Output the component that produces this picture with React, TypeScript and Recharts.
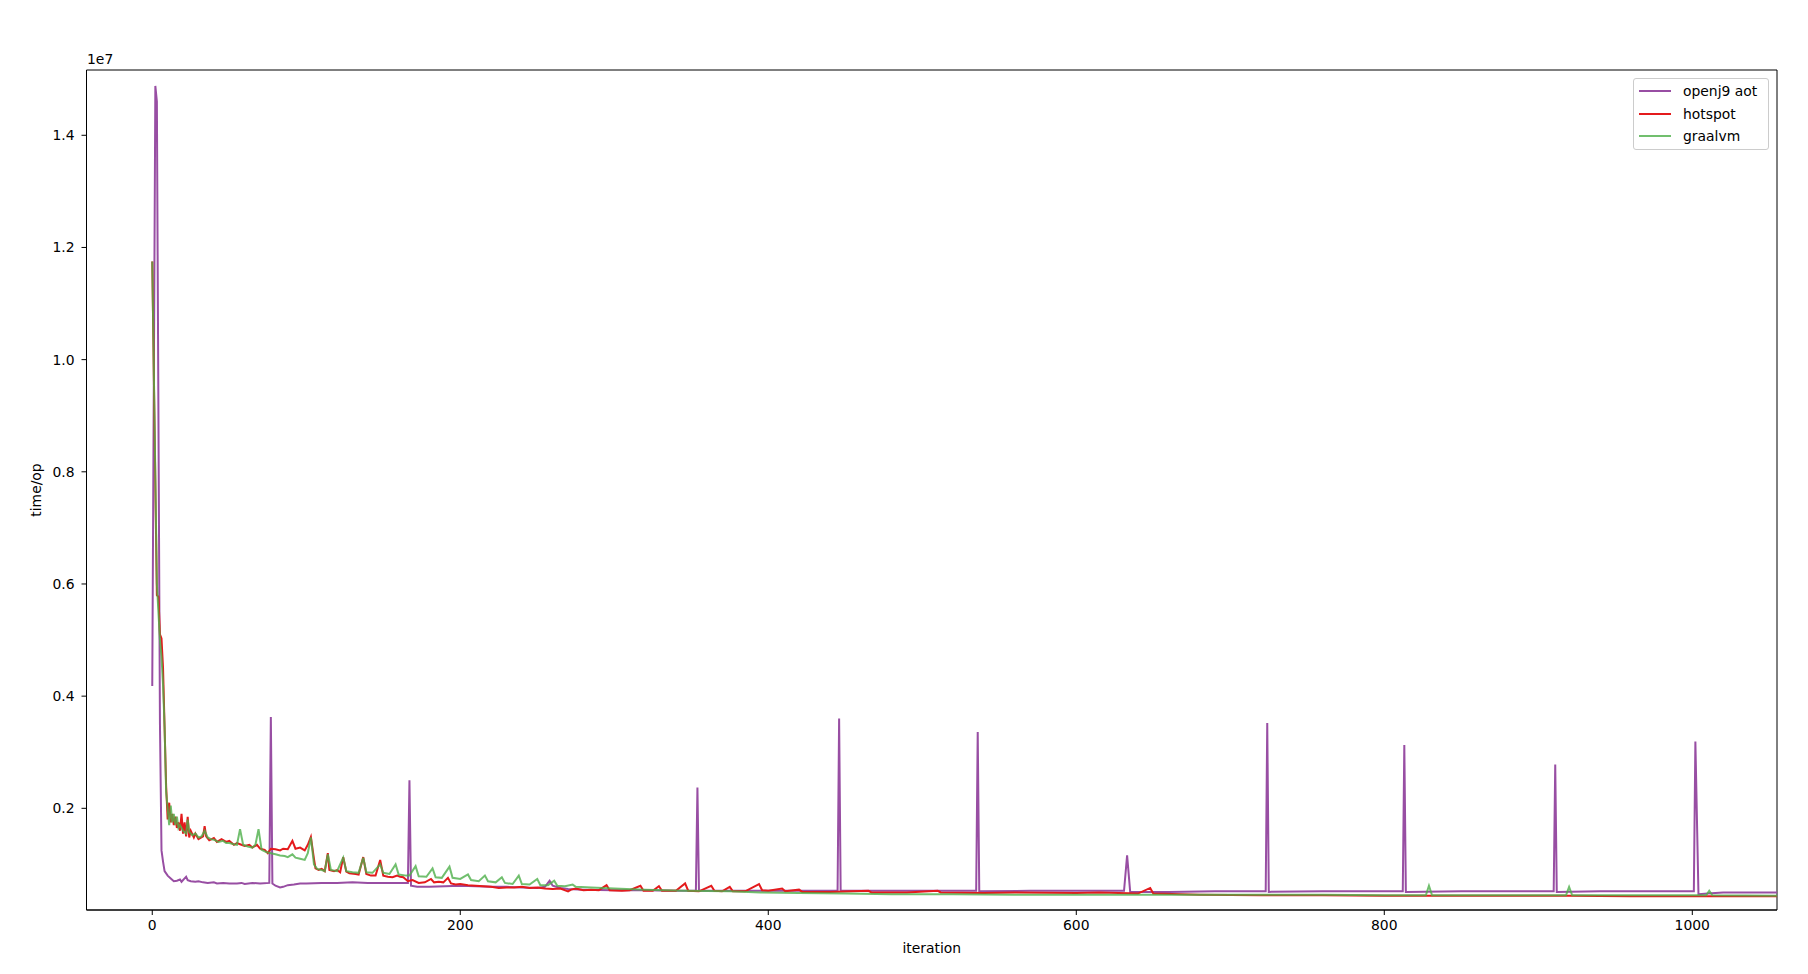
import React from "react";
import {
  LineChart,
  Line,
  XAxis,
  YAxis,
  ReferenceArea,
} from "recharts";

// values are time/op in units of 1e7 (matplotlib shows the "1e7" offset above the axis)
const openj9Aot: [number, number][] = [
  [0, 0.418], [2, 1.488], [3, 1.46], [5, 0.35], [6, 0.125], [7, 0.105], [8, 0.088],
  [10, 0.08], [12, 0.075], [14, 0.07], [16, 0.071], [18, 0.073], [19, 0.069], [21, 0.075],
  [22, 0.078], [23, 0.072], [25, 0.07], [28, 0.069], [30, 0.07], [33, 0.068], [36, 0.067],
  [40, 0.068], [42, 0.066], [46, 0.067], [50, 0.066], [55, 0.066], [58, 0.067], [60, 0.065],
  [65, 0.067], [70, 0.066], [76, 0.067], [77, 0.363], [78, 0.066], [80, 0.062], [83, 0.059],
  [85, 0.06], [88, 0.063], [92, 0.064], [96, 0.066], [100, 0.066], [110, 0.067], [120, 0.067],
  [130, 0.068], [140, 0.067], [150, 0.067], [160, 0.067], [166, 0.067], [167, 0.25],
  [168, 0.062], [172, 0.06], [180, 0.06], [190, 0.061], [200, 0.062], [210, 0.061],
  [220, 0.06], [230, 0.06], [240, 0.059], [250, 0.058], [255, 0.06], [258, 0.071],
  [260, 0.062], [265, 0.058], [270, 0.056], [280, 0.055], [300, 0.054], [320, 0.054],
  [340, 0.053], [353, 0.053], [354, 0.237], [355, 0.053], [380, 0.053], [410, 0.053],
  [445, 0.053], [446, 0.36], [447, 0.053], [480, 0.053], [510, 0.053], [535, 0.053],
  [536, 0.336], [537, 0.052], [570, 0.053], [600, 0.053], [631, 0.053], [633, 0.116],
  [635, 0.051], [660, 0.051], [690, 0.052], [723, 0.052], [724, 0.352], [725, 0.051],
  [760, 0.052], [790, 0.052], [812, 0.052], [813, 0.313], [814, 0.051], [850, 0.052],
  [880, 0.052], [910, 0.052], [911, 0.278], [912, 0.051], [940, 0.052], [970, 0.052],
  [1001, 0.052], [1002, 0.319], [1004, 0.047], [1010, 0.048], [1020, 0.05], [1040, 0.05],
  [1055, 0.05],
];

const hotspot: [number, number][] = [
  [0, 1.175], [3, 0.58], [4, 0.577], [5, 0.51], [6, 0.503], [7, 0.45], [8, 0.345], [9, 0.24],
  [10, 0.18], [11, 0.21], [12, 0.175], [13, 0.19], [14, 0.17], [15, 0.185], [16, 0.165],
  [17, 0.175], [18, 0.16], [19, 0.19], [20, 0.155], [21, 0.175], [22, 0.15], [23, 0.185],
  [24, 0.148], [25, 0.16], [27, 0.148], [28, 0.155], [30, 0.145], [33, 0.15], [34, 0.168],
  [35, 0.15], [37, 0.143], [40, 0.147], [42, 0.14], [45, 0.145], [48, 0.14], [50, 0.142],
  [53, 0.135], [55, 0.138], [57, 0.136], [60, 0.133], [63, 0.135], [65, 0.13], [68, 0.135],
  [70, 0.128], [73, 0.126], [75, 0.12], [77, 0.128], [80, 0.127], [83, 0.125], [85, 0.128],
  [88, 0.127], [91, 0.142], [93, 0.128], [96, 0.13], [99, 0.125], [101, 0.135], [103, 0.149],
  [105, 0.11], [106, 0.093], [108, 0.09], [110, 0.092], [112, 0.088], [114, 0.12], [115, 0.09],
  [118, 0.088], [120, 0.09], [122, 0.086], [124, 0.113], [126, 0.087], [128, 0.084],
  [132, 0.083], [134, 0.082], [137, 0.113], [139, 0.083], [142, 0.08], [145, 0.08],
  [148, 0.108], [150, 0.08], [153, 0.078], [156, 0.077], [159, 0.08], [161, 0.078],
  [163, 0.077], [166, 0.07], [169, 0.072], [173, 0.067], [177, 0.068], [181, 0.074],
  [183, 0.068], [186, 0.069], [189, 0.068], [192, 0.076], [194, 0.066], [197, 0.064],
  [200, 0.065], [205, 0.063], [210, 0.062], [215, 0.061], [220, 0.06], [225, 0.058],
  [230, 0.059], [235, 0.059], [240, 0.06], [245, 0.058], [250, 0.059], [255, 0.057],
  [260, 0.056], [265, 0.057], [270, 0.052], [272, 0.055], [275, 0.057], [280, 0.054],
  [285, 0.055], [290, 0.054], [295, 0.063], [297, 0.054], [305, 0.053], [310, 0.054],
  [317, 0.062], [319, 0.053], [325, 0.053], [329, 0.061], [331, 0.053], [340, 0.053],
  [346, 0.066], [348, 0.053], [355, 0.052], [363, 0.062], [365, 0.053], [370, 0.052],
  [375, 0.06], [377, 0.052], [385, 0.052], [394, 0.065], [396, 0.054], [400, 0.053],
  [409, 0.057], [411, 0.052], [420, 0.055], [422, 0.051], [440, 0.051], [465, 0.053],
  [467, 0.05], [490, 0.05], [510, 0.053], [512, 0.05], [540, 0.049], [560, 0.05],
  [600, 0.049], [615, 0.05], [640, 0.048], [648, 0.058], [650, 0.048], [680, 0.046],
  [720, 0.045], [760, 0.045], [800, 0.044], [840, 0.044], [880, 0.044], [920, 0.044],
  [960, 0.043], [1000, 0.043], [1030, 0.043], [1055, 0.043],
];

const graalvm: [number, number][] = [
  [0, 1.175], [3, 0.6], [5, 0.5], [6, 0.47], [7, 0.42], [8, 0.345], [9, 0.23], [10, 0.2],
  [11, 0.17], [12, 0.205], [13, 0.175], [14, 0.19], [15, 0.17], [16, 0.185], [17, 0.165],
  [18, 0.17], [20, 0.16], [22, 0.155], [23, 0.18], [24, 0.158], [26, 0.152], [28, 0.155],
  [30, 0.148], [32, 0.15], [34, 0.16], [36, 0.148], [38, 0.145], [40, 0.144], [43, 0.14],
  [46, 0.142], [48, 0.138], [50, 0.138], [53, 0.136], [55, 0.135], [57, 0.163], [59, 0.135],
  [62, 0.132], [65, 0.13], [67, 0.135], [69, 0.163], [71, 0.126], [74, 0.122], [77, 0.12],
  [80, 0.118], [83, 0.116], [86, 0.115], [88, 0.113], [91, 0.118], [93, 0.112], [96, 0.11],
  [99, 0.108], [101, 0.12], [103, 0.148], [105, 0.1], [107, 0.092], [110, 0.09], [112, 0.088],
  [114, 0.118], [116, 0.09], [120, 0.088], [124, 0.112], [126, 0.088], [130, 0.086],
  [134, 0.085], [137, 0.112], [139, 0.086], [143, 0.085], [148, 0.1], [150, 0.085],
  [154, 0.083], [158, 0.1], [160, 0.082], [165, 0.08], [167, 0.08], [171, 0.097],
  [173, 0.079], [178, 0.078], [182, 0.093], [184, 0.077], [188, 0.076], [193, 0.096],
  [195, 0.076], [200, 0.074], [205, 0.082], [207, 0.072], [212, 0.07], [216, 0.08],
  [218, 0.07], [223, 0.068], [227, 0.077], [229, 0.067], [234, 0.065], [238, 0.08],
  [240, 0.065], [245, 0.064], [250, 0.074], [252, 0.063], [257, 0.063], [261, 0.071],
  [263, 0.062], [268, 0.061], [273, 0.064], [275, 0.06], [285, 0.059], [300, 0.057],
  [320, 0.055], [345, 0.053], [375, 0.052], [395, 0.05], [420, 0.049], [450, 0.048],
  [480, 0.047], [520, 0.047], [560, 0.046], [600, 0.046], [640, 0.046], [680, 0.046],
  [720, 0.046], [760, 0.046], [800, 0.045], [827, 0.045], [829, 0.062], [831, 0.045],
  [860, 0.045], [900, 0.045], [918, 0.045], [920, 0.06], [922, 0.045], [960, 0.045],
  [1009, 0.045], [1011, 0.053], [1013, 0.045], [1055, 0.044],
];

const xTicks = [0, 200, 400, 600, 800, 1000];
const yTicks = [0.2, 0.4, 0.6, 0.8, 1.0, 1.2, 1.4];

const series = [
  { name: "openj9 aot", data: openj9Aot, color: "#984ea3", opacity: 1 },
  { name: "hotspot", data: hotspot, color: "#e41a1c", opacity: 1 },
  { name: "graalvm", data: graalvm, color: "#4daf4a", opacity: 0.8 },
];

const X_DOMAIN = [-42.7, 1055];
const Y_DOMAIN = [0.0187, 1.5164];
const FONT = "'DejaVu Sans', sans-serif";

const toPoints = (arr: [number, number][]) => arr.map(([x, y]) => ({ x, y }));

const LegendBox = () => (
  <div
    style={{
      position: "absolute",
      left: 1633,
      top: 78,
      width: 136,
      height: 72,
      border: "1px solid #cccccc",
      borderRadius: 3,
      background: "rgba(255,255,255,0.8)",
      boxSizing: "border-box",
      padding: "1px 0 0 4px",
      fontFamily: FONT,
      fontSize: 13.9,
    }}
  >
    {series.map((s) => (
      <div key={s.name} style={{ display: "flex", alignItems: "center", height: 22.6 }}>
        <svg width={34} height={6}>
          <line x1={1} y1={3} x2={33} y2={3} stroke={s.color} strokeOpacity={s.opacity} strokeWidth={2} />
        </svg>
        <span style={{ marginLeft: 11, color: "#000" }}>{s.name}</span>
      </div>
    ))}
  </div>
);

export default function App() {
  return (
    <div style={{ position: "absolute", left: 0, top: 0, width: 1808, height: 974, background: "#fff" }}>
      <LineChart
        width={1808}
        height={974}
        margin={{ top: 70, right: 31, bottom: 34, left: 26.5 }}
      >
        <XAxis
          dataKey="x"
          type="number"
          domain={X_DOMAIN}
          ticks={xTicks}
          allowDataOverflow
          height={30}
          stroke="#000"
          tickSize={5}
          tickMargin={5}
          tick={{ fill: "#000", fontSize: 13.9, fontFamily: FONT }}
        />
        <YAxis
          dataKey="y"
          type="number"
          domain={Y_DOMAIN}
          ticks={yTicks}
          allowDataOverflow
          width={60}
          stroke="#000"
          tickSize={5}
          tickMargin={7}
          tickFormatter={(v: number) => v.toFixed(1)}
          tick={{ fill: "#000", fontSize: 13.9, fontFamily: FONT }}
        />
        <ReferenceArea
          x1={X_DOMAIN[0]}
          x2={X_DOMAIN[1]}
          y1={Y_DOMAIN[0]}
          y2={Y_DOMAIN[1]}
          fill="none"
          stroke="#000"
          strokeWidth={1}
          ifOverflow="extendDomain"
        />
        {series.map((s) => (
          <Line
            key={s.name}
            data={toPoints(s.data)}
            dataKey="y"
            name={s.name}
            type="linear"
            stroke={s.color}
            strokeOpacity={s.opacity}
            strokeWidth={2}
            dot={false}
            activeDot={false}
            isAnimationActive={false}
          />
        ))}
      </LineChart>
      <LegendBox />
      <div style={{ position: "absolute", left: 87, top: 51, fontFamily: FONT, fontSize: 13.9 }}>1e7</div>
      <div
        style={{
          position: "absolute",
          left: 0,
          width: 1808 - 31 + 86.5,
          top: 940,
          textAlign: "center",
          fontFamily: FONT,
          fontSize: 13.9,
        }}
      >
        iteration
      </div>
      <div
        style={{
          position: "absolute",
          left: 36,
          top: 490,
          transform: "translate(-50%, -50%) rotate(-90deg)",
          fontFamily: FONT,
          fontSize: 13.9,
          whiteSpace: "nowrap",
        }}
      >
        time/op
      </div>
    </div>
  );
}
